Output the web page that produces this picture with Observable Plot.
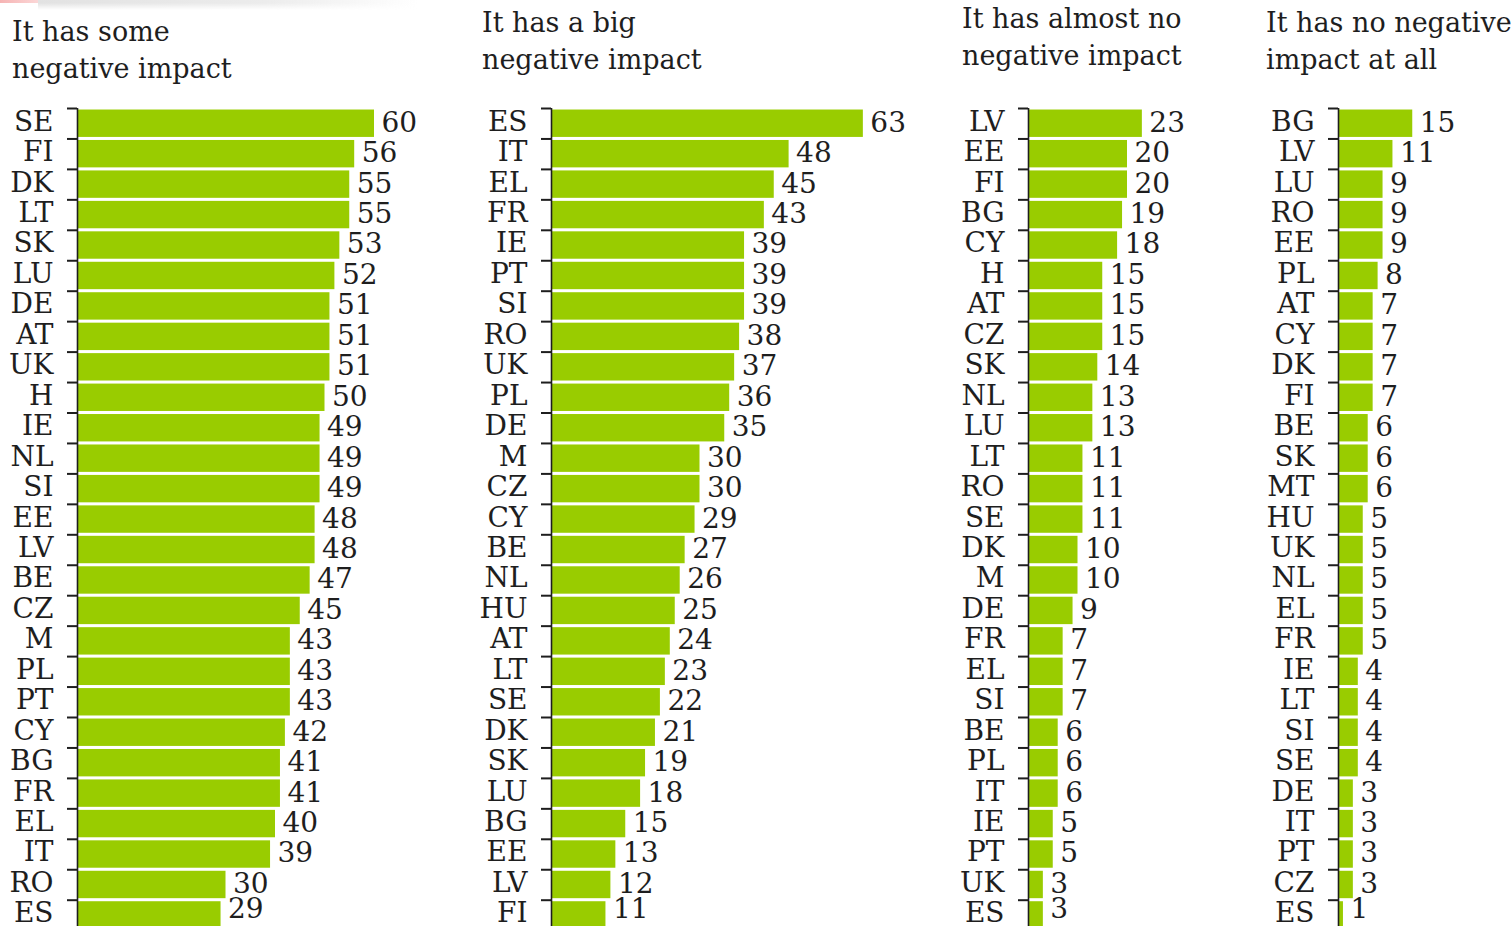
<!DOCTYPE html>
<html>
<head>
<meta charset="utf-8">
<script src="https://cdn.jsdelivr.net/npm/d3@7"></script>
<script src="https://cdn.jsdelivr.net/npm/@observablehq/plot@0.6"></script>
<style>
  html, body { margin: 0; padding: 0; background: #fff; overflow: hidden; }
  body { position: relative; width: 1512px; height: 926px; font-family: "DejaVu Serif", serif; color: #1e1e1e; }
  .title { position: absolute; font-size: 27px; line-height: 37px; white-space: nowrap; }
  .panel { position: absolute; top: 100px; }
  .tab-red { position: absolute; left: 0; top: 0; width: 38px; height: 3px; background: linear-gradient(to right, #f6b4b4, #fbd6d6); }
  .tab-grey { position: absolute; left: 38px; top: 0; width: 380px; height: 10px;
    background: linear-gradient(to right, #e2e2e2, #ececec 60%, rgba(255,255,255,0));
    -webkit-mask-image: linear-gradient(to bottom, #000 30%, rgba(0,0,0,0)); mask-image: linear-gradient(to bottom, #000 30%, rgba(0,0,0,0)); }
</style>
</head>
<body>
<div class="tab-red"></div>
<div class="tab-grey"></div>
<script>
// Share of respondents per country, one list per answer, sorted high to low.
const someCountries = ["SE","FI","DK","LT","SK","LU","DE","AT","UK","H","IE","NL","SI","EE","LV","BE","CZ","M","PL","PT","CY","BG","FR","EL","IT","RO","ES"];
const someValues    = [60,56,55,55,53,52,51,51,51,50,49,49,49,48,48,47,45,43,43,43,42,41,41,40,39,30,29];

const bigCountries  = ["ES","IT","EL","FR","IE","PT","SI","RO","UK","PL","DE","M","CZ","CY","BE","NL","HU","AT","LT","SE","DK","SK","LU","BG","EE","LV","FI"];
const bigValues     = [63,48,45,43,39,39,39,38,37,36,35,30,30,29,27,26,25,24,23,22,21,19,18,15,13,12,11];

const almostNoCountries = ["LV","EE","FI","BG","CY","H","AT","CZ","SK","NL","LU","LT","RO","SE","DK","M","DE","FR","EL","SI","BE","PL","IT","IE","PT","UK","ES"];
const almostNoValues    = [23,20,20,19,18,15,15,15,14,13,13,11,11,11,10,10,9,7,7,7,6,6,6,5,5,3,3];

const noneCountries = ["BG","LV","LU","RO","EE","PL","AT","CY","DK","FI","BE","SK","MT","HU","UK","NL","EL","FR","IE","LT","SI","SE","DE","IT","PT","CZ","ES"];
const noneValues    = [15,11,9,9,9,8,7,7,7,7,6,6,6,5,5,5,5,5,4,4,4,4,3,3,3,3,1];

const titles = [
  ["It has some", "negative impact"],
  ["It has a big", "negative impact"],
  ["It has almost no", "negative impact"],
  ["It has no negative", "impact at all"]
];

// Page layout for the four panels (left edge, axis position, width, title placement).
const layout = [
  {countries: someCountries,     values: someValues,     left: 0,    axis: 77,   width: 470, titleX: 12,   titleTop: 13},
  {countries: bigCountries,      values: bigValues,      left: 470,  axis: 551,  width: 480, titleX: 482,  titleTop: 4},
  {countries: almostNoCountries, values: almostNoValues, left: 950,  axis: 1028, width: 300, titleX: 962,  titleTop: 0},
  {countries: noneCountries,     values: noneValues,     left: 1250, axis: 1338, width: 262, titleX: 1266, titleTop: 4}
];

const pxPerUnit = 4.95;   // same bar scale in every panel
const rowStep = 30.45;
const frameTop = 8;
const tickLen = 10;
const green = "#99cc00";
const ink = "#1e1e1e";

layout.forEach((p, idx) => {
  const title = document.createElement("div");
  title.className = "title";
  title.style.left = p.titleX + "px";
  title.style.top = p.titleTop + "px";
  title.innerHTML = titles[idx].join("<br>");
  document.body.appendChild(title);

  const data = p.countries.map((c, i) => ({country: c, value: p.values[i]}));
  const last = p.countries[p.countries.length - 1];
  const ml = p.axis - p.left;
  const n = p.countries.length;
  const frameH = n * rowStep;
  const height = Math.ceil(frameTop + frameH + 12);
  const xMax = d3.max(p.values);

  const chart = Plot.plot({
    width: p.width,
    height,
    marginLeft: ml,
    marginRight: 0,
    marginTop: frameTop,
    marginBottom: height - frameTop - frameH,
    x: {domain: [0, xMax], range: [ml, ml + xMax * pxPerUnit], axis: null},
    y: {domain: p.countries, paddingInner: 0.1, paddingOuter: 0.05, round: false, label: null},
    style: {fontFamily: "DejaVu Serif, serif", fontSize: "28px", color: ink, background: "transparent", overflow: "visible"},
    marks: [
      Plot.barX(data, {x: "value", y: "country", fill: green}),
      Plot.ruleX([0], {stroke: ink, strokeWidth: 1.6}),
      // short ticks on the row boundaries, left of the axis line
      Plot.ruleY(p.countries, {y: d => d, x1: -tickLen / pxPerUnit, x2: 0, dy: -rowStep / 2, stroke: ink, strokeWidth: 2}),
      Plot.axisY({tickSize: 0, tickPadding: 24, dy: -2, fill: ink, label: null}),
      // value labels; the bottom row's label is lifted to stay clear of the page edge
      Plot.text(data.filter(d => d.country !== last), {x: "value", y: "country", text: d => String(d.value), dx: 7, dy: -1, textAnchor: "start", fill: ink}),
      Plot.text(data.filter(d => d.country === last), {x: "value", y: "country", text: d => String(d.value), dx: 7, dy: -6, textAnchor: "start", fill: ink})
    ]
  });

  const wrap = document.createElement("div");
  wrap.className = "panel";
  wrap.style.left = p.left + "px";
  wrap.appendChild(chart);
  document.body.appendChild(wrap);
});
</script>
</body>
</html>
